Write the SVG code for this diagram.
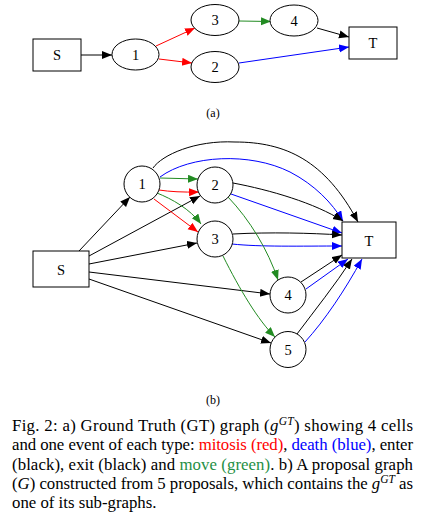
<svg xmlns="http://www.w3.org/2000/svg" width="444" height="523" viewBox="0 0 444 523">
<style>
.nd{fill:#fff;stroke:#000;stroke-width:1}
.lb{font-family:"Liberation Serif","Times New Roman",serif;font-size:14.5px;text-anchor:middle;fill:#000}
.sub{font-family:"Liberation Serif","Times New Roman",serif;font-size:12px;text-anchor:middle;fill:#000}
.e{fill:none;stroke-width:1}
.k{stroke:#000}
.r{stroke:#ff0000}
.b{stroke:#0000ff}
.g{stroke:#228b22}
.cap{font-family:"Liberation Serif","Times New Roman",serif;font-size:16.8px;fill:#000}
.it{font-style:italic}
</style>
<defs>
<marker id="ak" markerUnits="userSpaceOnUse" markerWidth="11" markerHeight="9" refX="10" refY="4" orient="auto"><path d="M0,0 L10,4 L0,8 z" fill="#000"/></marker>
<marker id="ar" markerUnits="userSpaceOnUse" markerWidth="11" markerHeight="9" refX="10" refY="4" orient="auto"><path d="M0,0 L10,4 L0,8 z" fill="#ff0000"/></marker>
<marker id="ab" markerUnits="userSpaceOnUse" markerWidth="11" markerHeight="9" refX="10" refY="4" orient="auto"><path d="M0,0 L10,4 L0,8 z" fill="#0000ff"/></marker>
<marker id="ag" markerUnits="userSpaceOnUse" markerWidth="11" markerHeight="9" refX="10" refY="4" orient="auto"><path d="M0,0 L10,4 L0,8 z" fill="#228b22"/></marker>
</defs>

<!-- Graph (a) connectors -->
<g id="connectors-a">
<path class="e k" d="M81,55 L112,55" marker-end="url(#ak)"/>
<path class="e r" d="M156,46 L195,28" marker-end="url(#ar)"/>
<path class="e r" d="M159,59 L192,63" marker-end="url(#ar)"/>
<path class="e g" d="M239,21 L271,21.5" marker-end="url(#ag)"/>
<path class="e k" d="M317,28 L349,37" marker-end="url(#ak)"/>
<path class="e b" d="M239,63 L349,47" marker-end="url(#ab)"/>
</g>
<g id="a-S"><rect class="nd" x="33" y="39" width="48" height="32"/><text class="lb" x="57" y="60">S</text></g>
<g id="a-1"><ellipse class="nd" cx="135.5" cy="54.5" rx="23.5" ry="15.5"/><text class="lb" x="135.5" y="59.5">1</text></g>
<g id="a-3"><ellipse class="nd" cx="215" cy="20" rx="24" ry="15.5"/><text class="lb" x="215" y="25">3</text></g>
<g id="a-2"><ellipse class="nd" cx="215" cy="67" rx="24" ry="15.5"/><text class="lb" x="215" y="72">2</text></g>
<g id="a-4"><ellipse class="nd" cx="294" cy="20.5" rx="24" ry="15.5"/><text class="lb" x="294" y="25.5">4</text></g>
<g id="a-T"><rect class="nd" x="349" y="27" width="48" height="32"/><text class="lb" x="373" y="48">T</text></g>
<text class="sub" x="213" y="117">(a)</text>

<!-- Graph (b) connectors -->
<g id="connectors-b">
<path class="e k" d="M79,251 L130,197" marker-end="url(#ak)"/>
<path class="e k" d="M89,256 L200,196" marker-end="url(#ak)"/>
<path class="e k" d="M89,264 L197,243" marker-end="url(#ak)"/>
<path class="e k" d="M89,272 L270,294" marker-end="url(#ak)"/>
<path class="e k" d="M89,279 L271,343" marker-end="url(#ak)"/>
<path class="e g" d="M160,178 L198,179" marker-end="url(#ag)"/>
<path class="e r" d="M159,190 Q175,192.5 199,192" marker-end="url(#ar)"/>
<path class="e g" d="M157,193 C172,199 190,209 201,224" marker-end="url(#ag)"/>
<path class="e r" d="M154,199 L198,232" marker-end="url(#ar)"/>
<path class="e k" d="M153,168 C162,155 195,140 235,142 C285,142 325,160 358,222" marker-end="url(#ak)"/>
<path class="e b" d="M160,177 C190,155 250,152 290,172 C315,185 332,203 343,221" marker-end="url(#ab)"/>
<path class="e k" d="M233,183 C270,190 315,203 343,221" marker-end="url(#ak)"/>
<path class="e b" d="M231,194 L342,233" marker-end="url(#ab)"/>
<path class="e k" d="M233,234 C270,232 310,233 342,235" marker-end="url(#ak)"/>
<path class="e b" d="M232,244 C260,247 300,246 342,246" marker-end="url(#ab)"/>
<path class="e g" d="M228,197 C250,220 268,250 278,280" marker-end="url(#ag)"/>
<path class="e g" d="M223,256 C240,290 258,320 275,337" marker-end="url(#ag)"/>
<path class="e k" d="M301,282 L342,255" marker-end="url(#ak)"/>
<path class="e b" d="M306,289 L348,259" marker-end="url(#ab)"/>
<path class="e k" d="M297,334 C315,310 335,285 352,259" marker-end="url(#ak)"/>
<path class="e b" d="M305,342 C325,320 345,290 362,259" marker-end="url(#ab)"/>
</g>
<g id="b-S"><rect class="nd" x="33" y="251" width="56" height="36"/><text class="lb" x="61" y="274.5">S</text></g>
<g id="b-T"><rect class="nd" x="342" y="222" width="54" height="36"/><text class="lb" x="369" y="245.5">T</text></g>
<g id="b-1"><circle class="nd" cx="142" cy="184" r="18"/><text class="lb" x="142" y="189">1</text></g>
<g id="b-2"><circle class="nd" cx="215" cy="185" r="18"/><text class="lb" x="215" y="190">2</text></g>
<g id="b-3"><circle class="nd" cx="215" cy="239" r="18"/><text class="lb" x="215" y="244">3</text></g>
<g id="b-4"><circle class="nd" cx="288" cy="295" r="18"/><text class="lb" x="288" y="300">4</text></g>
<g id="b-5"><circle class="nd" cx="288" cy="349.5" r="18"/><text class="lb" x="288" y="354.5">5</text></g>
<text class="sub" x="213" y="404">(b)</text>

<!-- Caption -->
<g id="caption">
<text class="cap" x="12" y="431" textLength="401" lengthAdjust="spacing">Fig. 2: a) Ground Truth (GT) graph (<tspan class="it">g</tspan><tspan class="it" font-size="11.5" dy="-6">GT</tspan><tspan dy="6">) showing 4 cells</tspan></text>
<text class="cap" x="12" y="450" textLength="401" lengthAdjust="spacing">and one event of each type: <tspan fill="#ff0000">mitosis (red)</tspan>, <tspan fill="#0000ff">death (blue)</tspan>, enter</text>
<text class="cap" x="12" y="469.5" textLength="401" lengthAdjust="spacing">(black), exit (black) and <tspan fill="#1f8f45">move (green)</tspan>. b) A proposal graph</text>
<text class="cap" x="12" y="489" textLength="401" lengthAdjust="spacing">(<tspan class="it">G</tspan>) constructed from 5 proposals, which contains the <tspan class="it">g</tspan><tspan class="it" font-size="11.5" dy="-6">GT</tspan><tspan dy="6"> as</tspan></text>
<text class="cap" x="12" y="508">one of its sub-graphs.</text>
</g>
</svg>
